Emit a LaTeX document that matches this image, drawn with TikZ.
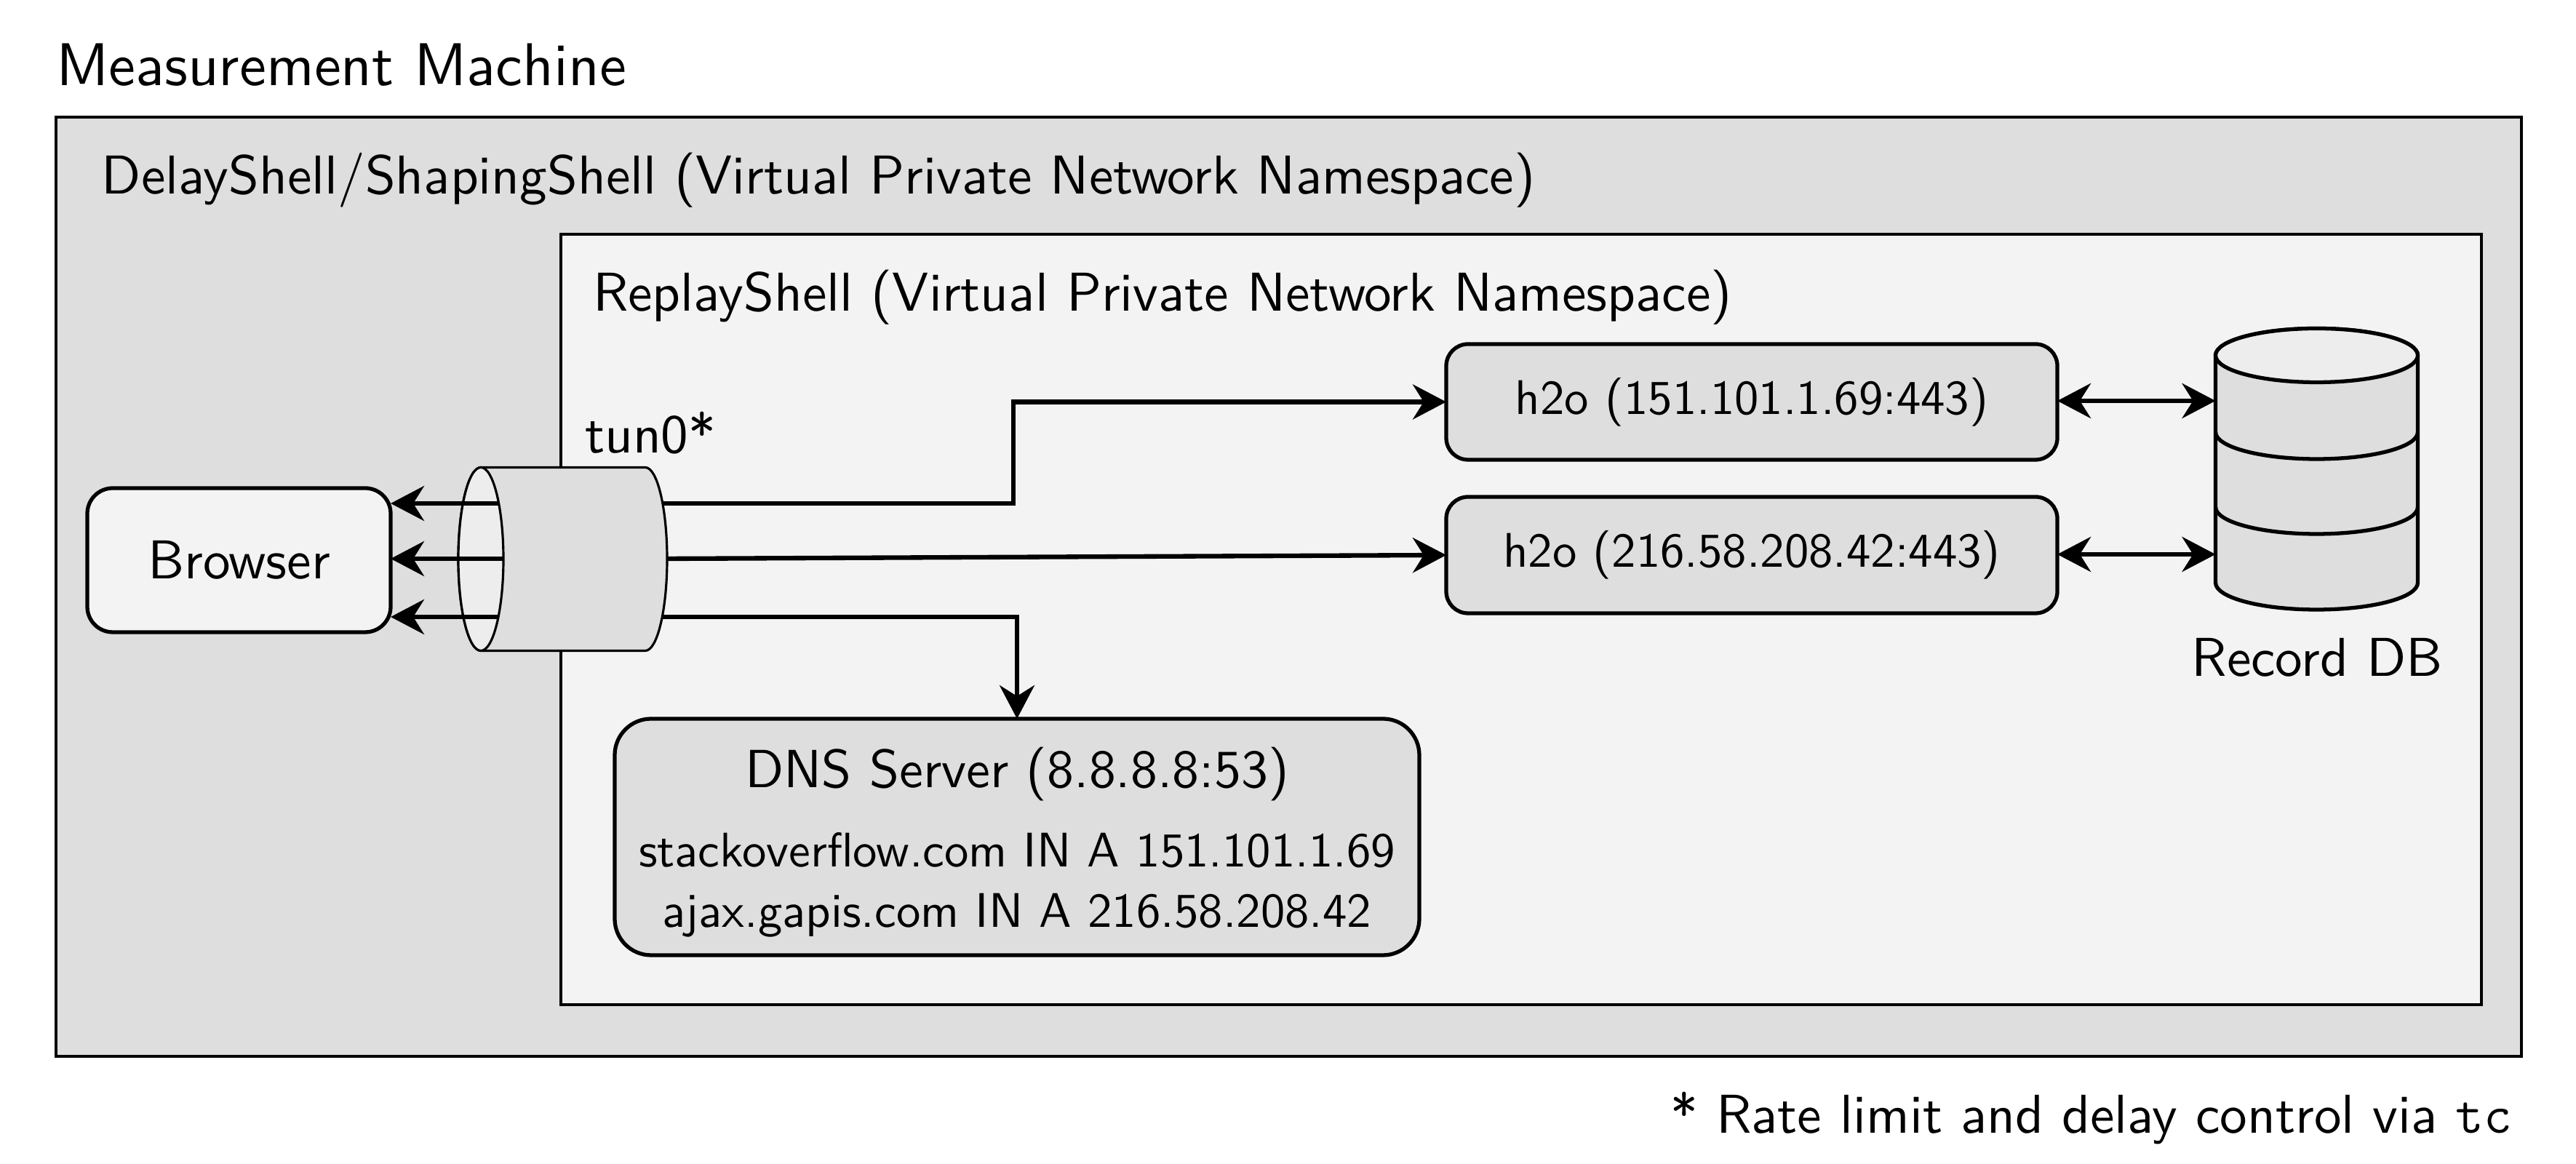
\documentclass[tikz,border=0pt]{standalone}
\usepackage{fontspec}
\setsansfont{lmsans10-regular.otf}
\usetikzlibrary{arrows.meta}
\definecolor{outerfill}{HTML}{DEDEDE}
\definecolor{innerfill}{HTML}{F3F3F3}
\definecolor{boxfill}{HTML}{DEDEDE}
\definecolor{facefill}{HTML}{EDEDED}
\newcommand\fszMM{\fontsize{23.6pt}{28pt}\selectfont}
\newcommand\fszL{\fontsize{21.4pt}{26pt}\selectfont}
\newcommand\fszDNS{\fontsize{21pt}{25pt}\selectfont}
\newcommand\fszRec{\fontsize{19pt}{22pt}\selectfont}
\newcommand\fszH{\fontsize{19pt}{23pt}\selectfont}
\begin{document}
\begin{tikzpicture}[x=1cm,y=1cm,font=\sffamily,
  every node/.style={inner sep=0pt,outer sep=0pt},
  frame/.style={draw,line width=0.9pt,anchor=north west},
  rbox/.style={draw,line width=1.5pt,rounded corners=0.3cm,fill=boxfill},
  conn/.style={line width=1.8pt,-{Stealth[length=0.46cm,width=0.48cm,inset=0.15cm]}},
  dconn/.style={line width=1.8pt,{Stealth[length=0.46cm,width=0.48cm,inset=0.15cm]}-{Stealth[length=0.46cm,width=0.48cm,inset=0.15cm]}},
  lbl/.style={anchor=base west}]
\useasboundingbox (0,0) rectangle (35.41,16);
% frames
\node[frame,fill=outerfill,minimum width=33.89cm,minimum height=12.91cm] (mm) at (0.77,14.39) {};
\node[lbl,font=\sffamily\fszMM] (mmlabel) at (0.77,14.82) {Measurement Machine};
\node[lbl,font=\sffamily\fszL] (delaylabel) at (1.40,13.33) {DelayShell/ShapingShell (Virtual Private Network Namespace)};
\node[frame,fill=innerfill,minimum width=26.40cm,minimum height=10.59cm] (replay) at (7.71,12.78) {};
\node[lbl,font=\sffamily\fszL] (replaylabel) at (8.15,11.72) {ReplayShell (Virtual Private Network Namespace)};
% browser
\node[rbox,fill=innerfill,minimum width=4.17cm,minimum height=1.98cm,rounded corners=0.35cm,font=\sffamily\fszL] (browser) at (3.285,8.30) {Browser};
% tun0 cylinder
\draw[fill=boxfill,line width=0.9pt] (6.61,9.575) -- (8.87,9.575) arc[start angle=90,end angle=-90,x radius=0.30,y radius=1.26] -- (6.61,7.055) arc[start angle=270,end angle=90,x radius=0.31,y radius=1.26] -- cycle;
\draw[fill=facefill,line width=0.9pt] (6.61,8.315) ellipse[x radius=0.31,y radius=1.26];
\node[lbl,font=\sffamily\fszL] (tunlabel) at (8.04,9.77) {tun0*};
\coordinate (tunR1) at (9.12,9.08);
\coordinate (tunR2) at (9.17,8.32);
\coordinate (tunR3) at (9.11,7.52);
\coordinate (tunL1) at (6.86,9.08);
\coordinate (tunL2) at (6.92,8.32);
\coordinate (tunL3) at (6.86,7.52);
% h2o servers
\node[rbox,minimum width=8.40cm,minimum height=1.59cm,font=\sffamily\fszH] (h1) at (24.08,10.475) {h2o (151.101.1.69:443)};
\node[rbox,minimum width=8.40cm,minimum height=1.60cm,font=\sffamily\fszH] (h2) at (24.08,8.37) {h2o (216.58.208.42:443)};
% DNS
\node[rbox,minimum width=11.06cm,minimum height=3.25cm,rounded corners=0.5cm] (dns) at (13.98,4.495) {};
\node[anchor=base,font=\sffamily\fszDNS] (dnst) at (13.98,5.17) {DNS Server (8.8.8.8:53)};
\node[anchor=base,font=\sffamily\fszRec] (dns1) at (13.98,4.08) {stackoverflow.com IN A 151.101.1.69};
\node[anchor=base,font=\sffamily\fszRec] (dns2) at (13.98,3.25) {ajax.gapis.com IN A 216.58.208.42};
% Record DB
\draw[fill=boxfill,line width=1.5pt] (30.455,11.115) -- (30.455,7.99) arc[start angle=180,end angle=360,x radius=1.39,y radius=0.37] -- (33.235,11.115) arc[start angle=0,end angle=180,x radius=1.39,y radius=0.37] -- cycle;
\draw[fill=facefill,line width=1.5pt] (31.845,11.115) ellipse[x radius=1.39,y radius=0.37];
\draw[line width=1.5pt] (30.455,10.06) arc[start angle=180,end angle=360,x radius=1.39,y radius=0.37];
\draw[line width=1.5pt] (30.455,9.03) arc[start angle=180,end angle=360,x radius=1.39,y radius=0.37];
\coordinate (dbA) at (30.455,10.49);
\coordinate (dbB) at (30.455,8.38);
\node[anchor=base,font=\sffamily\fszL] (dblabel) at (31.85,6.70) {Record DB};
% connectors
\draw[conn] (tunL1) -- (browser.east |- tunL1);
\draw[conn] (tunL2) -- (browser.east |- tunL2);
\draw[conn] (tunL3) -- (browser.east |- tunL3);
\draw[conn] (tunR1) -- (13.93,9.08) |- (h1.west);
\draw[conn] (tunR2) -- (h2.west);
\draw[conn] (tunR3) -| (dns.north);
\draw[dconn] (h1.east |- dbA) -- (dbA);
\draw[dconn] (h2.east |- dbB) -- (dbB);
% footnote
\node[anchor=base east,font=\sffamily\fszL] (foot) at (34.53,0.42) {* Rate limit and delay control via \texttt{tc}};
\end{tikzpicture}
\end{document}
